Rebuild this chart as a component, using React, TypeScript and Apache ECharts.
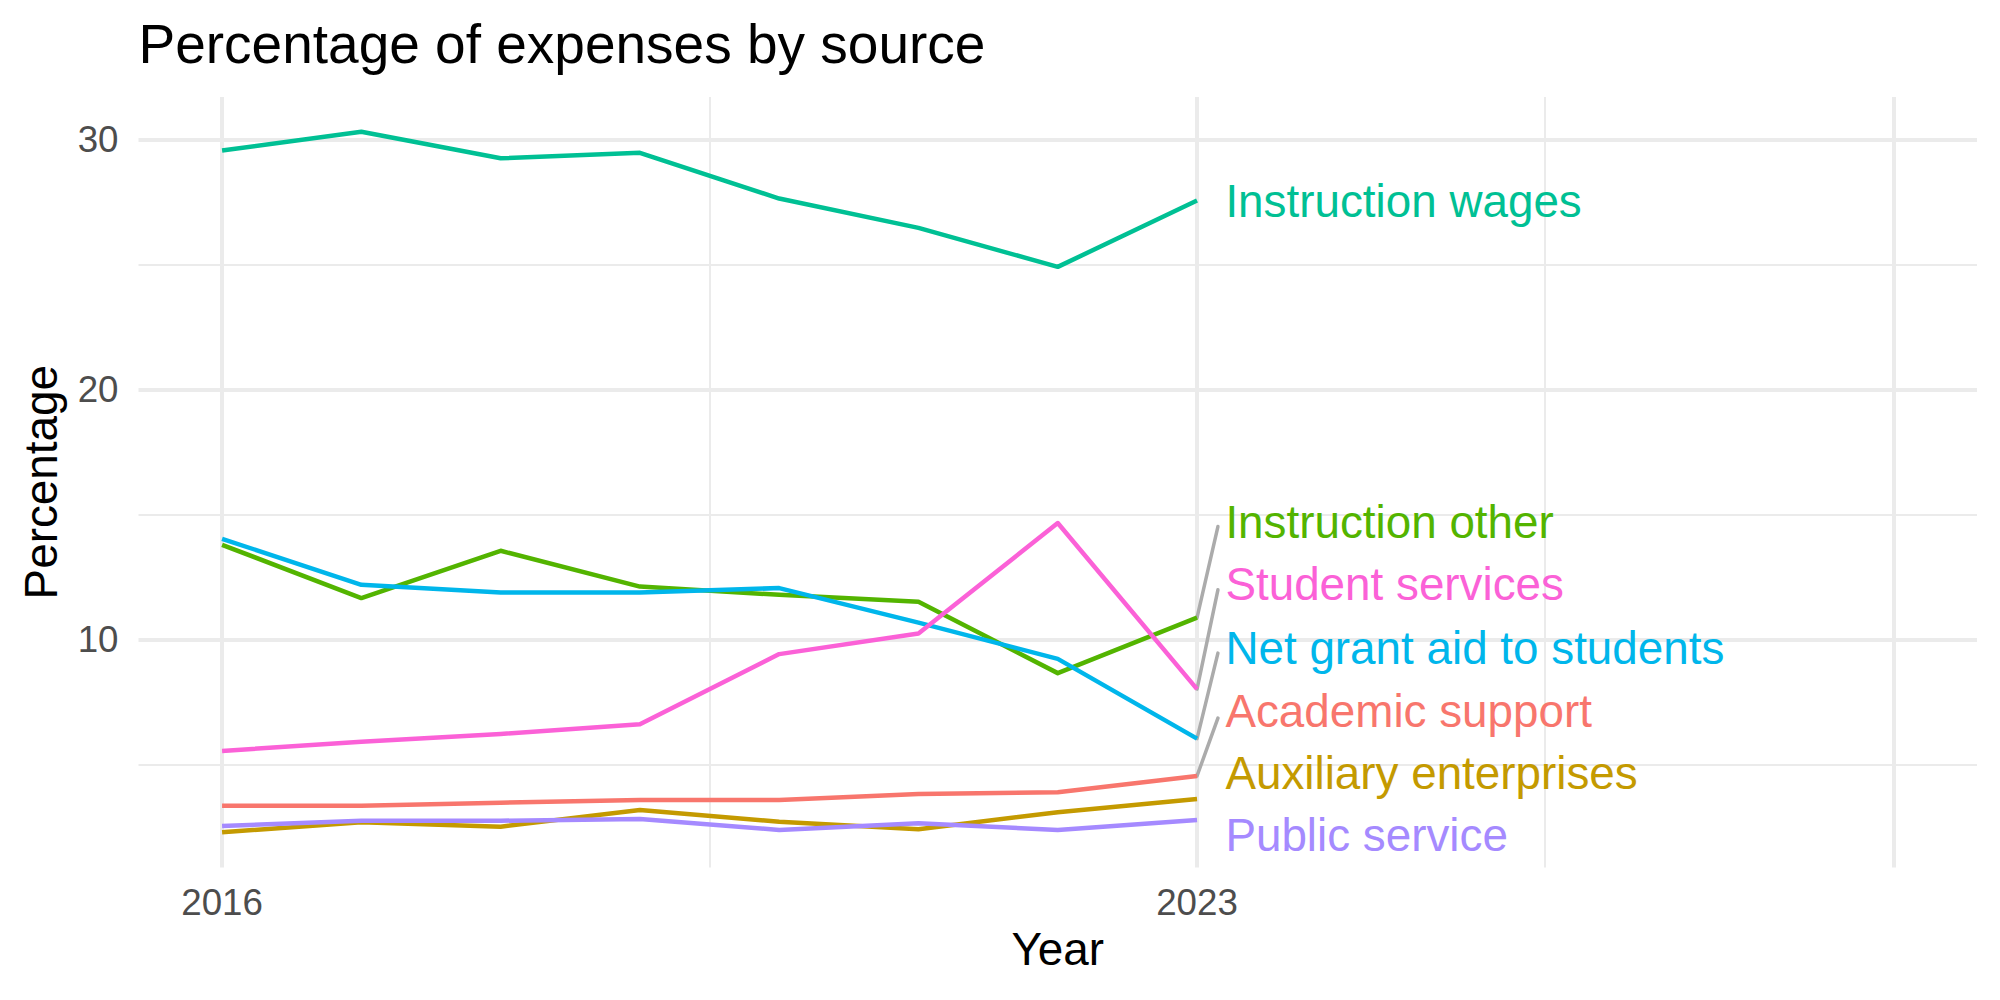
import React, { useEffect, useRef } from "react";
import * as echarts from "echarts";

const FONT = '"Liberation Sans", Arial, Helvetica, sans-serif';

const years = [2016, 2017, 2018, 2019, 2020, 2021, 2022, 2023];

const seriesNames = [
  "Academic support",
  "Auxiliary enterprises",
  "Instruction other",
  "Instruction wages",
  "Net grant aid to students",
  "Public service",
  "Student services",
];
const seriesColors = ["#F8766D", "#C49A00", "#53B400", "#00C094", "#00B6EB", "#A58AFF", "#FB61D7"];

const academicSupport = [3.37, 3.37, 3.49, 3.6, 3.6, 3.84, 3.91, 4.56];
const auxiliaryEnterprises = [2.31, 2.71, 2.53, 3.2, 2.73, 2.43, 3.11, 3.64];
const instructionOther = [13.8, 11.67, 13.56, 12.13, 11.8, 11.52, 8.67, 10.89];
const instructionWages = [29.56, 30.31, 29.25, 29.47, 27.64, 26.47, 24.91, 27.56];
const netGrantAid = [14.04, 12.2, 11.89, 11.89, 12.07, 10.69, 9.24, 6.05];
const publicService = [2.56, 2.77, 2.77, 2.84, 2.4, 2.67, 2.4, 2.8];
const studentServices = [5.56, 5.93, 6.24, 6.63, 9.43, 10.25, 14.67, 8.03];

const seriesValues = [
  academicSupport,
  auxiliaryEnterprises,
  instructionOther,
  instructionWages,
  netGrantAid,
  publicService,
  studentServices,
];

// repelled label positions (data units)
const labelX = 2023.2;
const labelY = [7.15, 4.64, 14.69, 27.53, 9.65, 2.16, 12.21];
// connector segments (ggrepel style): series index -> end point
const segmentSeries = [2, 6, 4, 0];
const segmentEndX = 2023.15;
const segmentEndY = [14.53, 12.0, 9.47, 6.87];

const xTickLabels = [2016, 2023];
const yTickLabels = [10, 20, 30];
const xMajorGrid = [2016, 2023, 2028];
const xMinorGrid = [2019.5, 2025.5];
const yMajorGrid = [10, 20, 30];
const yMinorGrid = [5, 15, 25];

export default function App() {
  const ref = useRef<HTMLDivElement>(null);

  useEffect(() => {
    if (!ref.current) return;
    const chart = echarts.init(ref.current, null, { renderer: "svg" });

    const gridColor = "#EBEBEB";
    const gridLines = [
      ...xMajorGrid.map((v) => ({ xAxis: v, lineStyle: { width: 4, color: gridColor, type: "solid" } })),
      ...xMinorGrid.map((v) => ({ xAxis: v, lineStyle: { width: 2, color: gridColor, type: "solid" } })),
      ...yMajorGrid.map((v) => ({ yAxis: v, lineStyle: { width: 4, color: gridColor, type: "solid" } })),
      ...yMinorGrid.map((v) => ({ yAxis: v, lineStyle: { width: 2, color: gridColor, type: "solid" } })),
    ];

    const dataSeries = seriesNames.map((name, i) => ({
      name,
      type: "line",
      data: years.map((y, j) => [y, seriesValues[i][j]]),
      symbol: "none",
      lineStyle: { color: seriesColors[i], width: 4.5, cap: "butt", join: "round" },
      itemStyle: { color: seriesColors[i] },
      z: 3,
      silent: true,
    }));

    const segments = segmentSeries.map((si, k) => ({
      name: "seg-" + seriesNames[si],
      type: "line",
      data: [
        [years[years.length - 1], seriesValues[si][years.length - 1]],
        [segmentEndX, segmentEndY[k]],
      ],
      symbol: "none",
      lineStyle: { color: "#ABABAB", width: 3.5, cap: "round" },
      z: 2,
      silent: true,
    }));

    const labelSeries = {
      name: "labels",
      type: "scatter",
      symbolSize: 1,
      itemStyle: { color: "rgba(0,0,0,0)", opacity: 1 },
      z: 4,
      silent: true,
      data: seriesNames.map((name, i) => ({
        name,
        value: [labelX, labelY[i]],
        label: {
          show: true,
          position: "right",
          distance: 0,
          formatter: name,
          color: seriesColors[i],
          opacity: 1,
          fontSize: 45.8,
          fontFamily: FONT,
          align: "left",
          verticalAlign: "middle",
        },
      })),
    };

    const gridSeries = {
      name: "grid",
      type: "line",
      data: [[2016, 10]],
      symbol: "none",
      lineStyle: { opacity: 0 },
      z: 0,
      silent: true,
      markLine: {
        silent: true,
        symbol: ["none", "none"],
        label: { show: false },
        z: 0,
        animation: false,
        data: gridLines,
      },
    };

    chart.setOption({
      animation: false,
      title: {
        text: "Percentage of expenses by source",
        left: 138.5,
        top: 16,
        padding: 0,
        textStyle: { fontSize: 55, fontWeight: "normal", color: "#000000", fontFamily: FONT },
      },
      grid: { left: 138.5, right: 23, top: 97, bottom: 132.5, containLabel: false },
      xAxis: {
        type: "value",
        min: 2015.4,
        max: 2028.6,
        name: "Year",
        nameLocation: "middle",
        nameGap: 59.4,
        nameTextStyle: { fontSize: 45.8, color: "#000000", fontFamily: FONT },
        axisLine: { show: false, onZero: false },
        axisTick: { show: false },
        splitLine: { show: false },
        axisLabel: {
          customValues: xTickLabels,
          formatter: (v: number) => String(v),
          color: "#4D4D4D",
          fontSize: 36.7,
          fontFamily: FONT,
          margin: 16.6,
        },
      },
      yAxis: {
        type: "value",
        min: 0.9,
        max: 31.7,
        name: "Percentage",
        nameLocation: "middle",
        nameGap: 74.5,
        nameTextStyle: { fontSize: 45.8, color: "#000000", fontFamily: FONT },
        axisLine: { show: false },
        axisTick: { show: false },
        splitLine: { show: false },
        axisLabel: {
          customValues: yTickLabels,
          formatter: (v: number) => String(v),
          color: "#4D4D4D",
          fontSize: 36.7,
          fontFamily: FONT,
          margin: 20,
        },
      },
      series: [gridSeries, ...segments, ...dataSeries, labelSeries],
    });

    return () => chart.dispose();
  }, []);

  return (
    <div
      ref={ref}
      style={{ position: "absolute", left: 0, top: 0, width: 2000, height: 1000, background: "#ffffff" }}
    />
  );
}
